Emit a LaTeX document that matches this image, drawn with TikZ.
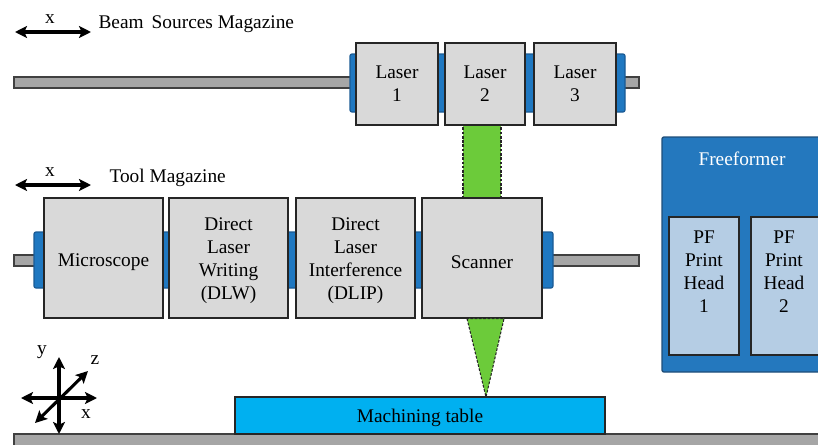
\documentclass[tikz,border=0pt]{standalone}
\usepackage{fontspec}
\setmainfont{Liberation Serif}
\usetikzlibrary{fit,arrows.meta}
\definecolor{boxgray}{HTML}{D9D9D9}
\definecolor{railgray}{HTML}{A6A6A6}
\definecolor{holdblue}{HTML}{1F78C1}
\definecolor{holdedge}{HTML}{1A5A94}
\definecolor{ffblue}{HTML}{2478BE}
\definecolor{ffedge}{HTML}{1F4E79}
\definecolor{pfblue}{HTML}{B5CDE4}
\definecolor{beamgreen}{HTML}{6CCB3A}
\definecolor{tablecyan}{HTML}{00B0F0}
\tikzset{
  every node/.style={font=\fontsize{14.5}{17.3}\selectfont},
  box/.style={draw=black!85, line width=0.9pt, fill=boxgray, inner sep=0pt},
  rail/.style={draw=black!75, line width=0.9pt, fill=railgray, inner sep=0pt},
  holder/.style={draw=holdedge, line width=0.9pt, fill=holdblue, rounded corners=1.5pt, inner sep=0pt},
  beam/.style={draw=black!85, dash pattern=on 2pt off 1.2pt, line width=0.8pt, fill=beamgreen},
  dirarrow/.style={line width=2.3pt, {Stealth[length=9pt,width=9pt,inset=2pt]}-{Stealth[length=9pt,width=9pt,inset=2pt]}},
  pfbox/.style={draw=black!85, line width=0.9pt, fill=pfblue, inner sep=0pt},
  lbl/.style={inner sep=1pt, align=center}
}
\begin{document}
\begin{tikzpicture}[x=0.75pt,y=-0.75pt]
\useasboundingbox (0,0) rectangle (818,444);

% ---- Beam sources magazine ----
\coordinate (ba1) at (15,32);
\coordinate (ba2) at (91,32);
\draw[dirarrow] (ba1) -- (ba2);
\node[lbl] (bx) at (50,19) {x};
\node[lbl, anchor=west] (btitle) at (97,24) {Beam\, Sources Magazine};

\node[rail, fit={(14,77) (639,88)}] (brail) {};
\node[holder, fit={(350,54) (625,112)}] (bhold) {};

\node[beam, fit={(463,120) (501,203)}, inner sep=0pt] (beam1) {};

\node[box, fit={(356,43) (438,125)}] (l1) {};
\node[box, fit={(445,43) (525,125)}] (l2) {};
\node[box, fit={(534,43) (616,125)}] (l3) {};
\node[lbl] (l1t) at (l1.center) {Laser\\1};
\node[lbl] (l2t) at (l2.center) {Laser\\2};
\node[lbl] (l3t) at (l3.center) {Laser\\3};

% ---- Tool magazine ----
\coordinate (ta1) at (15,185);
\coordinate (ta2) at (91,185);
\draw[dirarrow] (ta1) -- (ta2);
\node[lbl] (tx) at (50,172) {x};
\node[lbl, anchor=west] (ttitle) at (108,178) {Tool Magazine};

\node[rail, fit={(14,255) (639,266)}] (trail) {};
\node[holder, fit={(34,232) (553,288)}] (thold) {};

\node[box, fit={(44,198) (163,318)}] (micro) {};
\node[box, fit={(169,198) (288,318)}] (dlw) {};
\node[box, fit={(296,198) (415,318)}] (dlip) {};
\node[box, fit={(422,198) (542,318)}] (scan) {};
\node[lbl] (microt) at ([yshift=-2.8pt]micro.center) {Microscope};
\node[lbl] (dlwt) at ([yshift=-2pt]dlw.center) {Direct\\Laser\\Writing\\(DLW)};
\node[lbl] (dlipt) at ([yshift=-2pt]dlip.center) {Direct\\Laser\\Interference\\(DLIP)};
\node[lbl] (scant) at ([yshift=-2.8pt]scan.center) {Scanner};

% ---- cone ----
\coordinate (apex) at (486,397);
\draw[beam] (467,318.6) -- (apex) -- (504,318.6) -- cycle;

% ---- floor and table ----
\node[rail, fit={(14,434) (840,460)}] (floor) {};
\node[draw=black!85, line width=0.9pt, fill=tablecyan, inner sep=0pt, fit={(235,397) (605,434)}] (table) {};
\node[lbl] (tlabel) at ([yshift=-1.5pt]table.center) {Machining table};

% ---- Freeformer ----
\node[draw=ffedge, line width=1pt, fill=ffblue, rounded corners=1.5pt, inner sep=0pt, fit={(662,137) (840,372)}] (ff) {};
\node[lbl, text=white] (fftitle) at (742,159) {Freeformer};
\node[pfbox, fit={(669,217) (739,355)}] (pf1) {};
\node[pfbox, fit={(751,217) (821,355)}] (pf2) {};
\node[lbl] (pf1t) at (704,272) {PF\\Print\\Head\\1};
\node[lbl] (pf2t) at (784,272) {PF\\Print\\Head\\2};

% ---- coordinate axes ----
\coordinate (yt) at (59,357);
\coordinate (yb) at (59,434);
\coordinate (xl) at (21,398);
\coordinate (xr) at (97,398);
\coordinate (zl) at (35,423);
\coordinate (zu) at (88,371);
\draw[dirarrow] (yb) -- (yt);
\draw[dirarrow] (xl) -- (xr);
\draw[dirarrow] (zl) -- (zu);
\node[lbl] (ly) at (42,352) {y};
\node[lbl] (lz) at (95,360) {z};
\node[lbl] (lx) at (86,414) {x};
\end{tikzpicture}
\end{document}
